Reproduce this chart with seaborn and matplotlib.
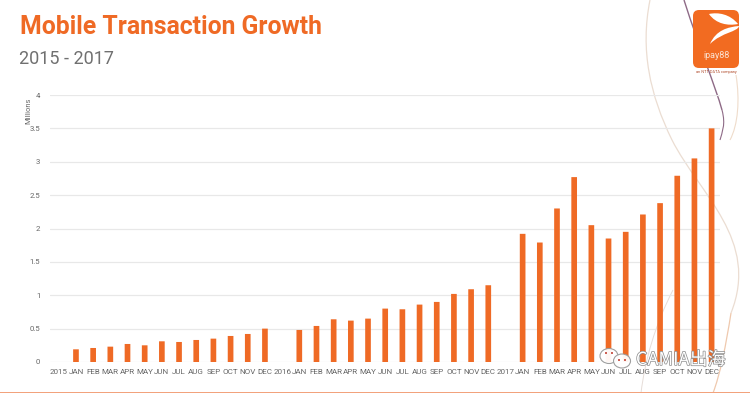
import matplotlib
matplotlib.use("Agg")
import matplotlib.pyplot as plt
import matplotlib.patheffects as pe
from matplotlib.patches import FancyBboxPatch, PathPatch, Ellipse, Rectangle
from matplotlib.path import Path
import pandas as pd
import seaborn as sns

year_labels = ["2015", "2016", "2017"]
months = ["JAN", "FEB", "MAR", "APR", "MAY", "JUN", "JUL", "AUG", "SEP", "OCT", "NOV", "DEC"]
values_2015 = [0.19, 0.21, 0.23, 0.27, 0.25, 0.31, 0.30, 0.33, 0.35, 0.39, 0.42, 0.50]
values_2016 = [0.48, 0.54, 0.64, 0.62, 0.65, 0.80, 0.79, 0.86, 0.90, 1.02, 1.09, 1.15]
values_2017 = [1.92, 1.79, 2.30, 2.77, 2.05, 1.85, 1.95, 2.21, 2.38, 2.79, 3.05, 3.50]
y_ticks = [0, 0.5, 1, 1.5, 2, 2.5, 3, 3.5, 4]
y_tick_labels = ["0", "0.5", "1", "1.5", "2", "2.5", "3", "3.5", "4"]

keys, labels, vals = [], [], []
for yr, series in zip(year_labels, [values_2015, values_2016, values_2017]):
    keys.append(yr); labels.append(yr); vals.append(None)
    for m, v in zip(months, series):
        keys.append(f"{yr}-{m}"); labels.append(m); vals.append(v)
df = pd.DataFrame({"key": keys, "value": vals})

W, H = 750, 393
sns.set_theme(style="white")
plt.rcParams["font.family"] = ["Roboto", "DejaVu Sans"]
ORANGE = "#EF6A25"
fig = plt.figure(figsize=(W / 100, H / 100), dpi=100, facecolor="white")

bg = fig.add_axes([0, 0, 1, 1], zorder=0)
bg.set_xlim(0, W); bg.set_ylim(H, 0); bg.axis("off")

def curve(pts, color, lw, ax=bg, alpha=1.0):
    codes = [Path.MOVETO] + [Path.CURVE4] * (len(pts) - 1)
    ax.add_patch(PathPatch(Path(pts, codes), fc="none", ec=color, lw=lw, alpha=alpha))

curve([(650, 0), (640, 50), (650, 95), (672, 140)], "#EBDDD2", 0.9)
curve([(672, 140), (700, 195), (760, 240), (731, 313)], "#EBDDD2", 0.9)
curve([(731, 313), (726, 345), (720, 375), (713, 393)], "#EFC9AE", 0.9)
curve([(684, 0), (700, 50), (715, 85), (722, 110)], "#8E6A86", 1.0)
curve([(722, 110), (726, 125), (722, 132), (720, 140)], "#8E6A86", 0.8)
curve([(736, 75), (740, 100), (738, 125), (730, 140)], "#EFDCCB", 0.8)
curve([(673, 290), (655, 325), (645, 360), (641, 393)], "#E6DDD8", 0.7)

ax = fig.add_axes([50.2 / W, 1 - 362 / H, 670 / W, 267 / H], zorder=2)
ax.patch.set_alpha(0)
sns.barplot(data=df, x="key", y="value", order=keys, color=ORANGE, saturation=1,
            width=0.33, ax=ax)
for bar in ax.patches:
    bar.set_snap(False)
    bar.set_linewidth(0)
ax.set_xlim(-0.5, len(keys) - 0.5)
ax.set_ylim(0, 4)
ax.set_xticks(range(len(keys)))
ax.set_xticklabels(labels, fontsize=5.8, color="#666666")
ax.set_yticks(y_ticks)
ax.set_yticklabels(y_tick_labels, fontsize=5.6, color="#666666")
ax.tick_params(length=0, pad=5)
ax.tick_params(axis="y", pad=7)
ax.grid(axis="y", color="#E8E8E8", lw=0.9)
ax.set_axisbelow(True)
sns.despine(ax=ax, left=True, bottom=True)
ax.set_xlabel("")
ax.set_ylabel("")

fig.text(20 / W, 1 - 27 / H, "Mobile Transaction Growth", fontsize=17.8, fontweight="bold",
         color=ORANGE, va="center", ha="left")
fig.text(19 / W, 1 - 59 / H, "2015 - 2017", fontsize=13, color="#707070", va="center", ha="left")
fig.text(29 / W, 1 - 111 / H, "Millions", fontsize=5.4, color="#666666", rotation=90, va="center", ha="center")

fg = fig.add_axes([0, 0, 1, 1], zorder=3)
fg.set_xlim(0, W); fg.set_ylim(H, 0); fg.axis("off"); fg.patch.set_alpha(0)
fg.add_patch(FancyBboxPatch((693, 10), 46, 58, boxstyle="round,pad=0,rounding_size=6", fc="#F26B21", ec="none"))
fg.add_patch(PathPatch(Path([(709, 14), (716, 24), (728, 26), (738, 24), (730, 14), (718, 12), (709, 14)],
                            [Path.MOVETO, Path.CURVE4, Path.CURVE4, Path.CURVE4, Path.CURVE4, Path.CURVE4, Path.CURVE4]),
                       fc="white", ec="none"))
fg.add_patch(PathPatch(Path([(710, 44), (716, 30), (728, 27), (739, 26), (738, 32), (722, 32), (710, 44)],
                            [Path.MOVETO, Path.CURVE4, Path.CURVE4, Path.CURVE4, Path.CURVE4, Path.CURVE4, Path.CURVE4]),
                       fc="white", ec="none"))
fg.text(716, 56, "ipay88", fontsize=6.5, color="#FBE3D3", ha="center", va="center")
fg.text(716, 72, "an NTT DATA company", fontsize=2.8, color="#B04A2A", ha="center", va="center")
fg.add_patch(Rectangle((0, 391.5), W, 1.5, fc="#F2A27C", ec="none"))

for (cx, cy, rx, ry) in [(609, 356, 9, 7.5), (622, 361, 8.5, 7)]:
    fg.add_patch(Ellipse((cx, cy), 2 * rx, 2 * ry, fc="white", ec="#9A9A9A", lw=0.8, alpha=0.95))
for (cx, cy) in [(606, 353), (612, 353), (619, 360), (625, 360)]:
    fg.add_patch(Ellipse((cx, cy), 2, 2, fc="#C0392B", ec="none"))
fg.text(636, 360, "CAMIA出海", fontsize=13, color="white", ha="left", va="center",
        family=["Noto Sans CJK SC", "DejaVu Sans"],
        path_effects=[pe.withStroke(linewidth=1.0, foreground="#8A8A8A")])

fig.savefig("out.png", dpi=100, facecolor="white")
